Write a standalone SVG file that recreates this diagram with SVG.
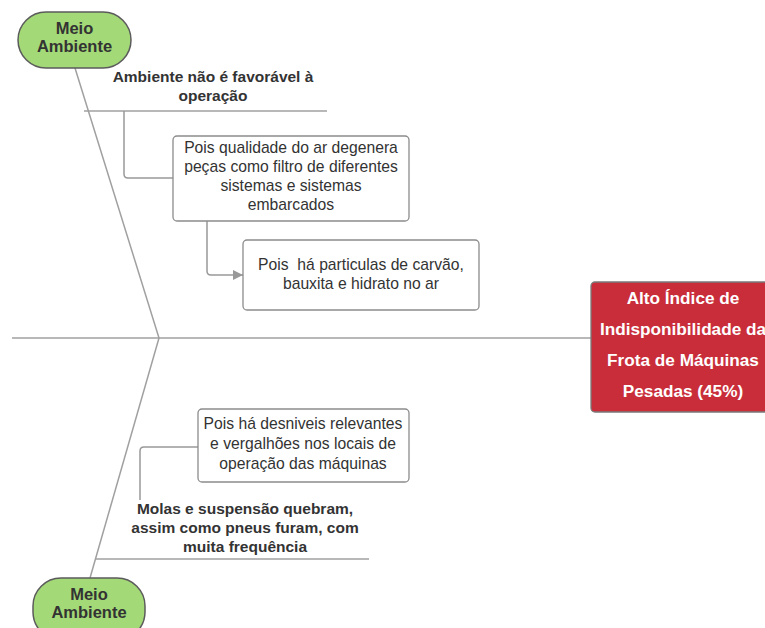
<svg xmlns="http://www.w3.org/2000/svg" width="765" height="628" viewBox="0 0 765 628">
  <defs>
    <marker id="arrow" viewBox="0 0 10 10" refX="10" refY="5" markerWidth="10" markerHeight="10" markerUnits="userSpaceOnUse" orient="auto">
      <path d="M0,0 L10,5 L0,10 Z" fill="#999999"/>
    </marker>
    <style>
      .bone { stroke: #a0a0a0; stroke-width: 1.5; fill: none; }
      .link { stroke: #999999; stroke-width: 1.5; fill: none; }
      .cat { fill: #a3d977; stroke: #5b5b5b; stroke-width: 1.5; }
      .box { fill: #ffffff; stroke: #8c8c8c; stroke-width: 1.3; }
      .head { fill: #c92d39; stroke: #7a7a7a; stroke-width: 1.3; }
      .t { font-family: "Liberation Sans", Arial, sans-serif; font-size: 15.7px; fill: #333333; text-anchor: middle; }
      .b { font-family: "Liberation Sans", Arial, sans-serif; font-size: 15.5px; font-weight: bold; fill: #333333; text-anchor: middle; }
      .c { font-family: "Liberation Sans", Arial, sans-serif; font-size: 16.5px; font-weight: bold; fill: #333333; text-anchor: middle; }
      .w { font-family: "Liberation Sans", Arial, sans-serif; font-size: 17.2px; font-weight: bold; fill: #ffffff; text-anchor: middle; }
      .pre { white-space: pre; }
    </style>
  </defs>

  <g id="connectors">
    <!-- spine -->
    <line class="bone" x1="12" y1="338" x2="592" y2="338"/>
    <!-- ribs -->
    <polyline class="bone" points="75,68 159,338 90,578"/>
    <!-- cause lines -->
    <line class="bone" x1="84" y1="111" x2="327" y2="111"/>
    <line class="bone" x1="95" y1="559" x2="369" y2="559"/>
    <!-- sub-cause links -->
    <path class="link" d="M124,111 V174 Q124,178 128,178 H173"/>
    <path class="link" d="M207,221 V271 Q207,275 211,275 H243" marker-end="url(#arrow)"/>
    <path class="link" d="M198,447 H144 Q140,447 140,451 V500"/>
  </g>

  <g id="cat-top">
    <rect class="cat" x="18" y="12" width="113" height="56" rx="28" ry="28"/>
    <text class="c" x="74.5" y="34">Meio</text>
    <text class="c" x="74.5" y="52">Ambiente</text>
  </g>

  <g id="cat-bottom">
    <rect class="cat" x="33" y="578" width="112" height="62" rx="28" ry="28"/>
    <text class="c" x="89" y="600">Meio</text>
    <text class="c" x="89" y="618">Ambiente</text>
  </g>

  <g id="cause-top">
    <text class="b" x="213" y="82">Ambiente não é favorável à</text>
    <text class="b" x="213" y="101">operação</text>
  </g>

  <g id="why-air">
    <rect class="box" x="173" y="136" width="236" height="85" rx="4" ry="4"/>
    <text class="t" x="291" y="153">Pois qualidade do ar degenera</text>
    <text class="t" x="291" y="172">peças como filtro de diferentes</text>
    <text class="t" x="291" y="191">sistemas e sistemas</text>
    <text class="t" x="291" y="210">embarcados</text>
  </g>

  <g id="why-particles">
    <rect class="box" x="243" y="240" width="236" height="70" rx="4" ry="4"/>
    <text class="t pre" x="361" y="270">Pois  há particulas de carvão,</text>
    <text class="t" x="361" y="289">bauxita e hidrato no ar</text>
  </g>

  <g id="effect">
    <rect class="head" x="591" y="282" width="186" height="130" rx="4" ry="4"/>
    <text class="w" x="683" y="304">Alto Índice de</text>
    <text class="w" x="683" y="335">Indisponibilidade da</text>
    <text class="w" x="683" y="366">Frota de Máquinas</text>
    <text class="w" x="683" y="397">Pesadas (45%)</text>
  </g>

  <g id="why-terrain">
    <rect class="box" x="198" y="409" width="211" height="73" rx="4" ry="4"/>
    <text class="t" x="303" y="429">Pois há desniveis relevantes</text>
    <text class="t" x="303" y="449">e vergalhões nos locais de</text>
    <text class="t" x="303" y="469">operação das máquinas</text>
  </g>

  <g id="cause-bottom">
    <text class="b" x="245" y="514">Molas e suspensão quebram,</text>
    <text class="b" x="245" y="533">assim como pneus furam, com</text>
    <text class="b" x="245" y="552">muita frequência</text>
  </g>
</svg>
